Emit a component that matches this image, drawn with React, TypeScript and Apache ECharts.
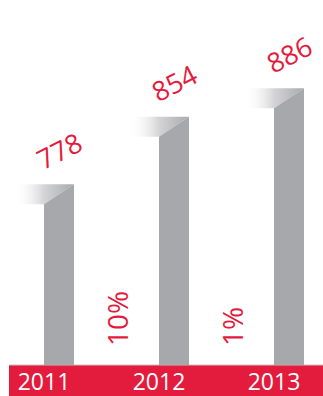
import React, { useEffect, useRef } from "react";
import * as echarts from "echarts";

const years = ["2011", "2012", "2013"];
const values = [778, 854, 886];
const growthLabels = ["10%", "1%"];

const RED = "#e31b3c";
const GREY = "#a7a8ab";
const Y_MIN = 575;
const Y_MAX = 975;
const FONT = "'Open Sans', 'Noto Sans', sans-serif";

export default function App() {
  const ref = useRef<HTMLDivElement>(null);
  useEffect(() => {
    if (!ref.current) return;
    const chart = echarts.init(ref.current, null, { renderer: "svg" });
    const barData = values.map((v, i) => [i, v]);
    const growthData = growthLabels.map((g, i) => [i, g]);
    chart.setOption({
      animation: false,
      backgroundColor: "#ffffff",
      grid: { left: 59, right: 34, top: 9, bottom: 31 },
      xAxis: {
        type: "category",
        data: years,
        boundaryGap: false,
        axisLine: { show: false },
        axisTick: { show: false },
        splitLine: { show: false },
        axisLabel: {
          color: "#ffffff",
          fontSize: 23,
          fontFamily: FONT,
          margin: 4,
          padding: [0, 30, 0, 0],
        },
        z: 10,
      },
      yAxis: { type: "value", min: Y_MIN, max: Y_MAX, show: false },
      graphic: [
        {
          type: "rect",
          left: 9,
          top: 365,
          shape: { width: 314, height: 31 },
          style: { fill: RED },
          z: 1,
        },
        {
          type: "rect",
          left: 9,
          top: 364.5,
          shape: { width: 314, height: 1 },
          style: { fill: "#c4c4c6" },
          z: 2,
        },
      ],
      series: [
        {
          type: "custom",
          data: barData,
          z: 5,
          renderItem: (params: any, api: any) => {
            const i = api.value(0);
            const v = api.value(1);
            const top = api.coord([i, v]);
            const base = api.coord([i, Y_MIN]);
            const w = 30;
            const slant = 20;
            const xr = top[0] + w / 2;
            const xl = top[0] - w / 2;
            const yt = top[1];
            return {
              type: "group",
              children: [
                {
                  type: "polygon",
                  shape: {
                    points: [
                      [xl - 30, yt],
                      [xr, yt],
                      [xl, yt + slant],
                      [xl - 30, yt + slant],
                    ],
                  },
                  style: {
                    fill: new echarts.graphic.LinearGradient(
                      xl - 30,
                      0,
                      xr,
                      0,
                      [
                        { offset: 0, color: "rgba(255,255,255,0)" },
                        { offset: 0.5, color: "#d4d4d6" },
                        { offset: 1, color: "#a9aaad" },
                      ],
                      true
                    ),
                  },
                },
                {
                  type: "polygon",
                  shape: {
                    points: [
                      [xr, yt],
                      [xr, base[1]],
                      [xl, base[1]],
                      [xl, yt + slant],
                    ],
                  },
                  style: { fill: GREY },
                },
                {
                  type: "text",
                  x: top[0],
                  y: yt - 34,
                  rotation: (27 * Math.PI) / 180,
                  style: {
                    text: String(v),
                    fill: RED,
                    fontSize: 27,
                    fontFamily: FONT,
                    align: "center",
                    verticalAlign: "middle",
                  },
                },
              ],
            };
          },
        },
        {
          type: "custom",
          data: growthData,
          z: 6,
          renderItem: (params: any, api: any) => {
            const i = api.value(0);
            const a = api.coord([i, Y_MIN]);
            const b = api.coord([i + 1, Y_MIN]);
            const x = (a[0] + b[0]) / 2;
            return {
              type: "text",
              x: x,
              y: a[1] - 19,
              rotation: Math.PI / 2,
              style: {
                text: growthLabels[params.dataIndex],
                fill: RED,
                fontSize: 28,
                fontFamily: FONT,
                align: "left",
                verticalAlign: "middle",
              },
            };
          },
        },
      ],
    });
    return () => chart.dispose();
  }, []);
  return (
    <div
      ref={ref}
      style={{ position: "absolute", left: 0, top: 0, width: 323, height: 396 }}
    />
  );
}
